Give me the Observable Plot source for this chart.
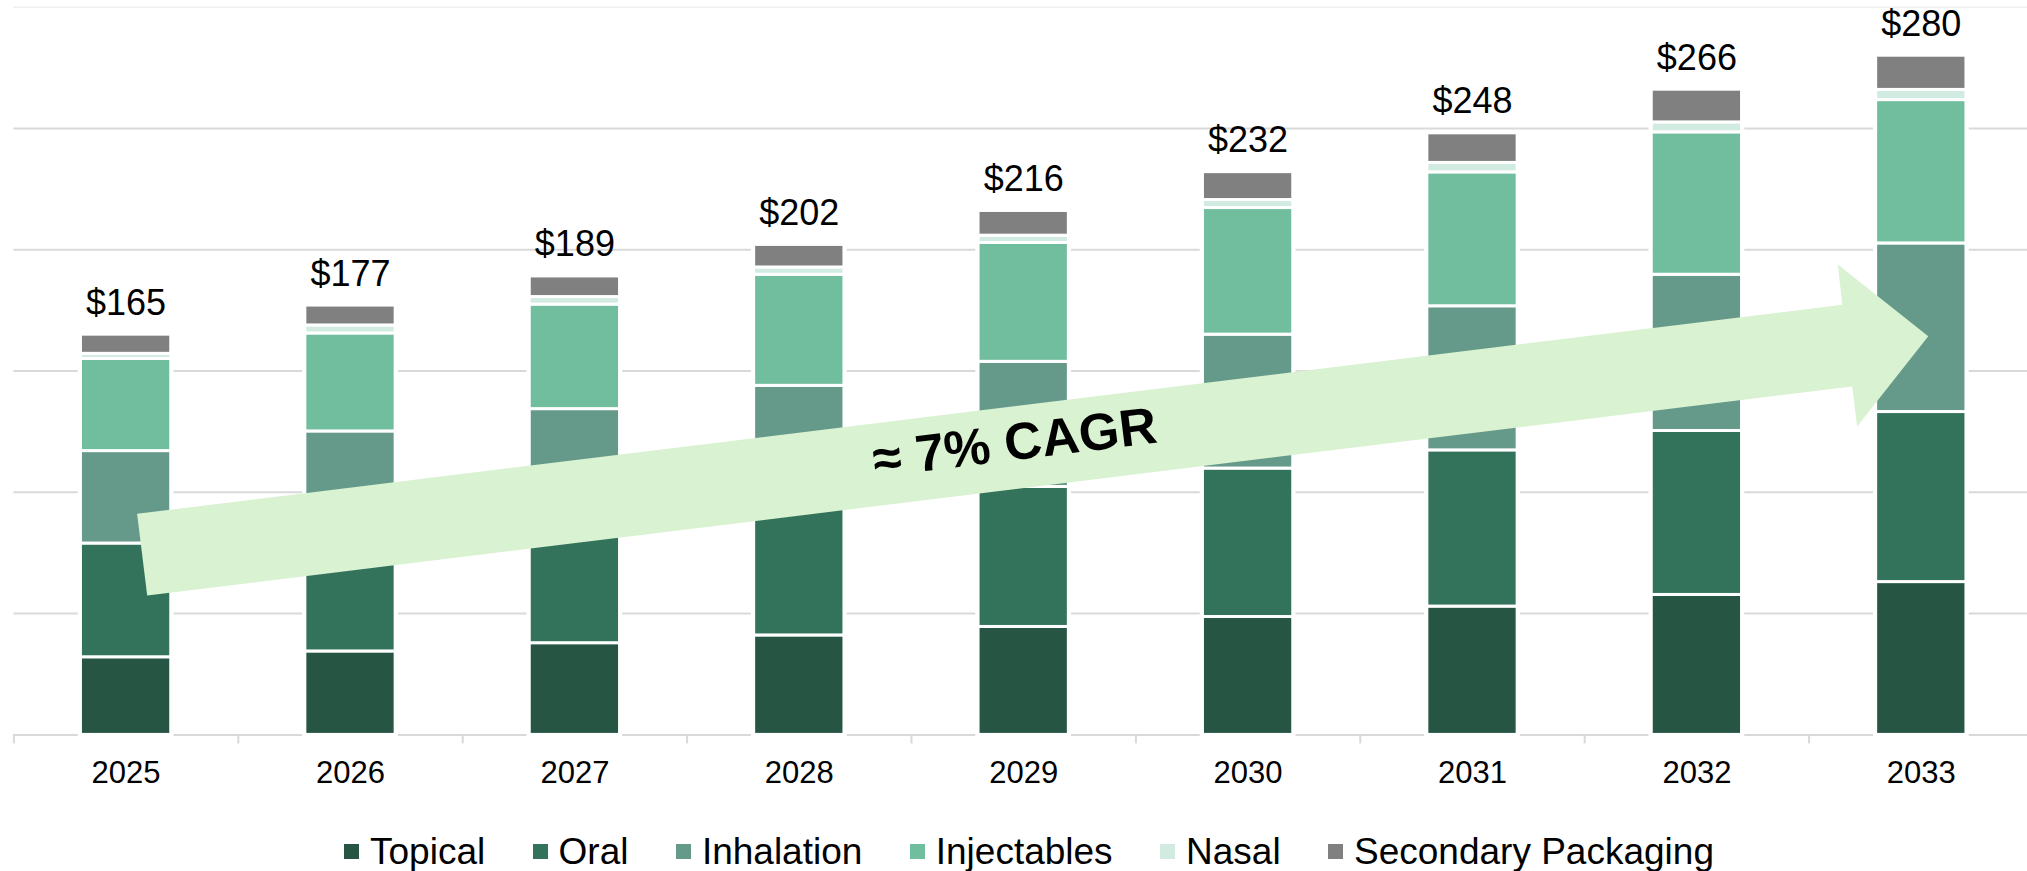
<!DOCTYPE html>
<html>
<head>
<meta charset="utf-8">
<script src="https://cdn.jsdelivr.net/npm/d3@7"></script>
<script src="https://cdn.jsdelivr.net/npm/@observablehq/plot@0.6"></script>
<style>
  html, body { margin: 0; padding: 0; background: #fff; overflow: hidden; }
  #wrap { position: relative; width: 2027px; height: 871px; overflow: hidden; font-family: "Liberation Sans", Arial, sans-serif; }
  #chart { position: absolute; left: 0; top: 0; width: 2033px; }
  #chart svg { max-width: none !important; }
  #legend { position: absolute; left: 344px; top: 833px; height: 37px; display: flex; align-items: center; gap: 47.4px; font-size: 37px; line-height: 37px; color: #000; white-space: nowrap; }
  .item { display: flex; align-items: center; gap: 11px; }
  .sw { width: 15px; height: 15px; display: inline-block; }
</style>
</head>
<body>
<div id="wrap">
  <div id="chart"></div>
  <div id="legend"></div>
</div>
<script>
// ---- data ----
const years = [2025, 2026, 2027, 2028, 2029, 2030, 2031, 2032, 2033];
const seriesNames = ["Topical", "Oral", "Inhalation", "Injectables", "Nasal", "Secondary Packaging"];
const seriesColors = ["#265643", "#34735b", "#65998a", "#71be9e", "#d1ebe1", "#808080"];
const topical     = [32.0, 34.4, 37.8, 41.0, 44.5, 48.6, 52.9, 57.7, 63.0];
const oral        = [46.9, 49.7, 52.2, 55.0, 57.7, 61.2, 64.4, 67.6, 70.1];
const inhalation  = [38.1, 41.0, 44.3, 47.9, 51.6, 55.2, 59.4, 64.4, 69.5];
const injectables = [38.0, 40.4, 43.1, 45.8, 49.0, 52.2, 55.2, 58.7, 59.1];
const nasal       = [2.1, 3.3, 3.1, 3.0, 3.0, 3.3, 3.9, 4.1, 4.2];
const secondary   = [7.9, 8.2, 8.5, 9.3, 10.2, 11.5, 12.2, 13.5, 14.1];
const totals      = [165, 177, 189, 202, 216, 232, 248, 266, 280];
const totalLabels = ["$165", "$177", "$189", "$202", "$216", "$232", "$248", "$266", "$280"];
const gridValues  = [50, 100, 150, 200, 250];
const topGrid     = [300];
// CAGR arrow outline in data coordinates (year position, value)
const arrowX = [2025.049, 2032.648, 2032.628, 2033.031, 2032.714, 2032.692, 2025.094];
const arrowY = [91.15, 177.31, 193.92, 164.37, 127.14, 143.63, 57.47];
const cagrText = "≈ 7% CAGR";
const cagrX = 2028.96, cagrY = 120.2;

// ---- build table ----
const seriesValues = [topical, oral, inhalation, injectables, nasal, secondary];
const rows = [];
years.forEach((yr, i) => {
  seriesNames.forEach((s, k) => rows.push({year: yr, series: s, value: seriesValues[k][i]}));
});
const arrowPts = arrowX.map((x, i) => ({x, y: arrowY[i]}));
const boundaries = years.map(y => y - 0.5).concat([years[years.length - 1] + 0.5]);
const hw = 0.2012;

const plot = Plot.plot({
  width: 2033,
  height: 800,
  marginLeft: 13.4,
  marginRight: 0,
  marginTop: 6.7,
  marginBottom: 65.6,
  style: {fontFamily: "Liberation Sans, Arial, sans-serif", background: "white", color: "#000", maxWidth: "none"},
  x: {type: "linear", domain: [2024.5, 2033.5], axis: null},
  y: {domain: [0, 300], axis: null},
  color: {type: "ordinal", domain: seriesNames, range: seriesColors},
  marks: [
    Plot.ruleY(topGrid, {stroke: "#f0f0f0", strokeWidth: 1.5}),
    Plot.ruleY(gridValues, {stroke: "#d9d9d9", strokeWidth: 2}),
    Plot.ruleY([0], {stroke: "#d9d9d9", strokeWidth: 2}),
    Plot.axisX(boundaries, {tickSize: 9, tickFormat: () => "", stroke: "#d9d9d9", strokeWidth: 2, label: null}),
    Plot.rectY(totals, {x1: (d, i) => years[i] - hw, x2: (d, i) => years[i] + hw, y1: 0, y2: d => d, fill: "white", stroke: "white", strokeWidth: 5.5}),
    Plot.rectY(rows, {x1: d => d.year - hw, x2: d => d.year + hw, y: "value", fill: "series", stroke: "white", strokeWidth: 3}),
    Plot.line(arrowPts, {x: "x", y: "y", fill: "#d9f2d1", stroke: "none"}),
    Plot.text([cagrText], {x: () => cagrX, y: () => cagrY, text: d => d, rotate: -7, fontSize: 52, fontWeight: "bold", fill: "#000", textAnchor: "middle", lineAnchor: "middle"}),
    Plot.text(totals, {x: (d, i) => years[i], y: d => d, text: (d, i) => totalLabels[i], lineAnchor: "bottom", dy: -20, fontSize: 36, fill: "#000"}),
    Plot.axisX(years, {tickSize: 0, tickPadding: 26.5, fontSize: 31, tickFormat: d => String(d), fill: "#000", label: null})
  ]
});
document.getElementById("chart").appendChild(plot);

// ---- legend ----
const legend = document.getElementById("legend");
seriesNames.forEach((s, k) => {
  const item = document.createElement("div");
  item.className = "item";
  const sw = document.createElement("span");
  sw.className = "sw";
  sw.style.background = seriesColors[k];
  const t = document.createElement("span");
  t.textContent = s;
  item.appendChild(sw);
  item.appendChild(t);
  legend.appendChild(item);
});
</script>
</body>
</html>
